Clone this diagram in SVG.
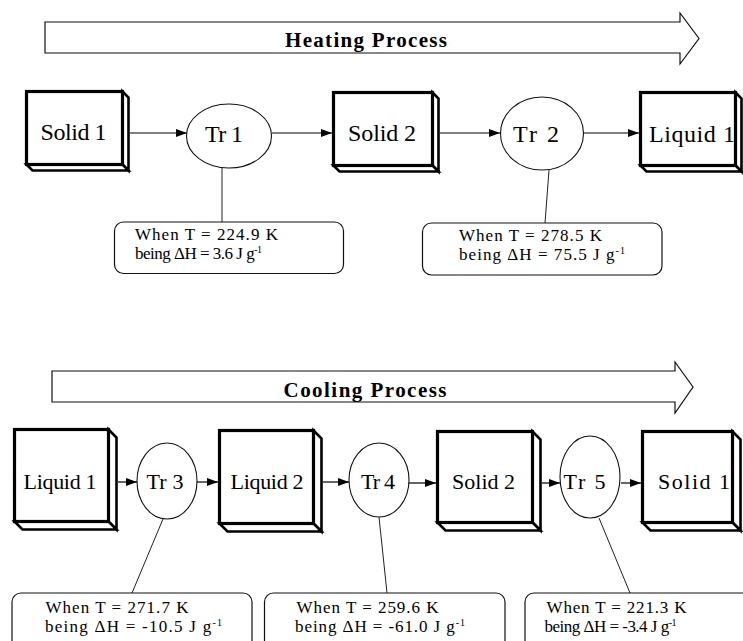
<svg xmlns="http://www.w3.org/2000/svg" width="743" height="641" viewBox="0 0 743 641">
<defs>
<marker id="ah" markerWidth="11" markerHeight="8" refX="11" refY="4" orient="auto" markerUnits="userSpaceOnUse">
<path d="M0,0 L11,4 L0,8 z" fill="#000"/>
</marker>
<style>
.front{fill:#fff;stroke:#000;stroke-width:3.2}
.face{fill:#fff;stroke:#000;stroke-width:2.6;stroke-linejoin:miter}
.tr{fill:#fff;stroke:#111;stroke-width:1.1}
.lbl{font-family:"Liberation Serif","Times New Roman",serif;fill:#000;text-anchor:middle}
.l1{font-size:24px}
.l2{font-size:22px}
.hd{font-family:"Liberation Serif","Times New Roman",serif;font-weight:bold;font-size:21px;fill:#000;text-anchor:middle}
.big{fill:#fff;stroke:#111;stroke-width:1.2}
.co{fill:#fff;stroke:#111;stroke-width:1.2}
.ct{font-family:"Liberation Serif","Times New Roman",serif;font-size:17px;fill:#000}
.sup{font-size:10px}
.arr{stroke:#000;stroke-width:1.2;fill:none;marker-end:url(#ah)}
.ln{stroke:#222;stroke-width:1;fill:none}
</style>
</defs>
<rect width="743" height="641" fill="#fff"/>

<g id="heating-arrow">
<polygon class="big" points="45,22 680,22 680,13 699,38.5 680,64 680,53 45,53"/>
<text class="hd" x="366" y="47" textLength="162" lengthAdjust="spacing">Heating Process</text>
</g>
<g id="cooling-arrow">
<polygon class="big" points="52,371 675,371 675,362 693,387 675,413 675,402 52,402"/>
<text class="hd" x="365" y="397" textLength="163" lengthAdjust="spacing">Cooling Process</text>
</g>

<g id="connectors">
<line class="arr" x1="130" y1="133" x2="187" y2="133"/>
<line class="arr" x1="272" y1="133" x2="332" y2="133"/>
<line class="arr" x1="440" y1="133" x2="500" y2="133"/>
<line class="arr" x1="584" y1="133" x2="639" y2="133"/>
<line class="arr" x1="118" y1="482" x2="137" y2="482"/>
<line class="arr" x1="197" y1="482" x2="218" y2="482"/>
<line class="arr" x1="323" y1="482" x2="349" y2="482"/>
<line class="arr" x1="409" y1="483" x2="436" y2="483"/>
<line class="arr" x1="542" y1="483" x2="560" y2="483"/>
<line class="arr" x1="621" y1="483" x2="641" y2="483"/>
<line class="ln" x1="222" y1="168" x2="222" y2="222"/>
<line class="ln" x1="549" y1="170" x2="545" y2="223"/>
<line class="ln" x1="163" y1="519" x2="132" y2="593"/>
<line class="ln" x1="379" y1="517" x2="387" y2="593"/>
<line class="ln" x1="599" y1="518" x2="630" y2="593"/>
</g>

<g id="h-solid1">
<polygon class="face" points="122.5,91.5 128.5,97.5 128.5,170.5 122.5,164.5"/>
<polygon class="face" points="26.5,164.5 32.5,170.5 128.5,170.5 122.5,164.5"/>
<rect class="front" x="26.5" y="91.5" width="96" height="73"/>
<text class="lbl l1" x="73.5" y="140" textLength="66" lengthAdjust="spacing">Solid 1</text>
</g>
<g id="h-tr1">
<ellipse class="tr" cx="229" cy="136" rx="42.5" ry="32"/>
<text class="lbl l1" x="224" y="141.5" textLength="38" lengthAdjust="spacing">Tr 1</text>
</g>
<g id="h-solid2">
<polygon class="face" points="432.5,92.5 438.5,98.5 438.5,171.5 432.5,165.5"/>
<polygon class="face" points="333.5,165.5 339.5,171.5 438.5,171.5 432.5,165.5"/>
<rect class="front" x="333.5" y="92.5" width="99" height="73"/>
<text class="lbl l1" x="382" y="141" textLength="68" lengthAdjust="spacing">Solid 2</text>
</g>
<g id="h-tr2">
<ellipse class="tr" cx="542" cy="133.5" rx="41.5" ry="36.5"/>
<text class="lbl l1" x="536" y="141.5" textLength="46" lengthAdjust="spacing">Tr 2</text>
</g>
<g id="h-liquid1">
<polygon class="face" points="735.5,92.5 741.5,98.5 741.5,171.5 735.5,165.5"/>
<polygon class="face" points="640.5,165.5 646.5,171.5 741.5,171.5 735.5,165.5"/>
<rect class="front" x="640.5" y="92.5" width="95" height="73"/>
<text class="lbl l1" x="692" y="141.5" textLength="86" lengthAdjust="spacing">Liquid 1</text>
</g>

<g id="h-note1">
<rect class="co" x="114.5" y="222" width="229" height="51.5" rx="9"/>
<text class="ct" x="135" y="239.5" textLength="143" lengthAdjust="spacing">When T = 224.9 K</text>
<text class="ct" x="135" y="258.5" textLength="127" lengthAdjust="spacing">being ΔH = 3.6 J g<tspan class="sup" dy="-6">-1</tspan></text>
</g>
<g id="h-note2">
<rect class="co" x="422.5" y="223" width="239.5" height="52" rx="9"/>
<text class="ct" x="459" y="241" textLength="143" lengthAdjust="spacing">When T = 278.5 K</text>
<text class="ct" x="459" y="260" textLength="166" lengthAdjust="spacing">being ΔH = 75.5 J g<tspan class="sup" dy="-6">-1</tspan></text>
</g>

<g id="c-liquid1">
<polygon class="face" points="108.5,429.5 116.5,437.5 116.5,529.5 108.5,521.5"/>
<polygon class="face" points="14.5,521.5 22.5,529.5 116.5,529.5 108.5,521.5"/>
<rect class="front" x="14.5" y="429.5" width="94" height="92"/>
<text class="lbl l2" x="60" y="489" textLength="73" lengthAdjust="spacing">Liquid 1</text>
</g>
<g id="c-tr3">
<ellipse class="tr" cx="167" cy="481" rx="30" ry="38"/>
<text class="lbl l2" x="165" y="489" textLength="37" lengthAdjust="spacing">Tr 3</text>
</g>
<g id="c-liquid2">
<polygon class="face" points="313.5,430.5 321.5,438.5 321.5,531.5 313.5,523.5"/>
<polygon class="face" points="219.5,523.5 227.5,531.5 321.5,531.5 313.5,523.5"/>
<rect class="front" x="219.5" y="430.5" width="94" height="93"/>
<text class="lbl l2" x="267" y="489" textLength="73" lengthAdjust="spacing">Liquid 2</text>
</g>
<g id="c-tr4">
<ellipse class="tr" cx="379" cy="480" rx="30" ry="37"/>
<text class="lbl l2" x="378" y="489" textLength="34" lengthAdjust="spacing">Tr 4</text>
</g>
<g id="c-solid2">
<polygon class="face" points="532.5,431.5 540.5,439.5 540.5,530.5 532.5,522.5"/>
<polygon class="face" points="437.5,522.5 445.5,530.5 540.5,530.5 532.5,522.5"/>
<rect class="front" x="437.5" y="431.5" width="95" height="91"/>
<text class="lbl l2" x="483.5" y="489" textLength="63" lengthAdjust="spacing">Solid 2</text>
</g>
<g id="c-tr5">
<ellipse class="tr" cx="590" cy="477" rx="30" ry="41"/>
<text class="lbl l2" x="584.5" y="489" textLength="42" lengthAdjust="spacing">Tr 5</text>
</g>
<g id="c-solid1">
<polygon class="face" points="732.5,431.5 740.5,439.5 740.5,530.5 732.5,522.5"/>
<polygon class="face" points="642.5,522.5 650.5,530.5 740.5,530.5 732.5,522.5"/>
<rect class="front" x="642.5" y="431.5" width="90" height="91"/>
<text class="lbl l2" x="694" y="489" textLength="72" lengthAdjust="spacing">Solid 1</text>
</g>

<g id="c-note3">
<rect class="co" x="12" y="593" width="240" height="70" rx="9"/>
<text class="ct" x="45.5" y="613" textLength="143" lengthAdjust="spacing">When T = 271.7 K</text>
<text class="ct" x="45" y="632" textLength="177" lengthAdjust="spacing">being ΔH = -10.5 J g<tspan class="sup" dy="-6">-1</tspan></text>
</g>
<g id="c-note4">
<rect class="co" x="264.5" y="593" width="240.5" height="70" rx="9"/>
<text class="ct" x="296.5" y="613" textLength="142" lengthAdjust="spacing">When T = 259.6 K</text>
<text class="ct" x="295" y="632" textLength="170" lengthAdjust="spacing">being ΔH = -61.0 J g<tspan class="sup" dy="-6">-1</tspan></text>
</g>
<g id="c-note5">
<rect class="co" x="525" y="593" width="240" height="70" rx="9"/>
<text class="ct" x="546.5" y="613" textLength="140" lengthAdjust="spacing">When T = 221.3 K</text>
<text class="ct" x="544.5" y="632" textLength="132" lengthAdjust="spacing">being ΔH = -3.4 J g<tspan class="sup" dy="-6">-1</tspan></text>
</g>
</svg>
